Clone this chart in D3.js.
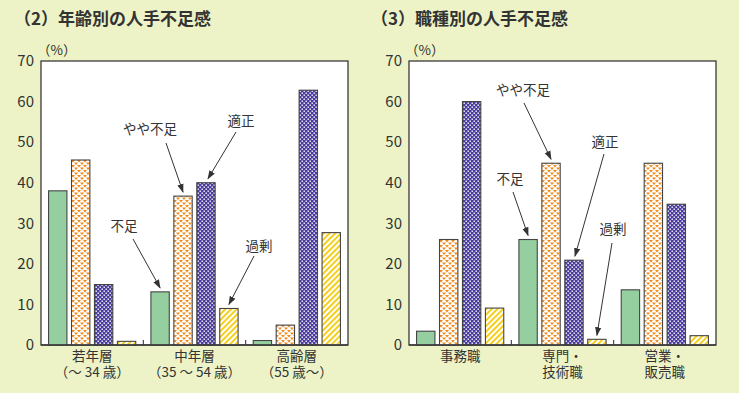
<!DOCTYPE html>
<html>
<head>
<meta charset="utf-8">
<script src="https://cdn.jsdelivr.net/npm/d3@7"></script>
<style>
  body { margin: 0; background: #edf3c7; }
  svg { display: block; }
  text { font-family: "Noto Sans CJK JP", sans-serif; fill: #333; }
</style>
</head>
<body>
<svg id="chart" width="739" height="393"></svg>
<script>
// series (same order in both panels)
var seriesNames = ["不足", "やや不足", "適正", "過剰"];
var yTicks = [0, 10, 20, 30, 40, 50, 60, 70];

// (2) by age
var ageCats = [["若年層", "（～ 34 歳）"], ["中年層", "（35 ～ 54 歳）"], ["高齢層", "（55 歳～）"]];
var ageFusoku = [38.0, 13.1, 1.1];
var ageYaya = [45.6, 36.7, 4.9];
var ageTekisei = [14.9, 40.0, 62.8];
var ageKajo = [0.9, 9.0, 27.7];

// (3) by job type
var jobCats = [["事務職"], ["専門・", "技術職"], ["営業・", "販売職"]];
var jobFusoku = [3.4, 26.0, 13.6];
var jobYaya = [26.0, 44.8, 44.8];
var jobTekisei = [60.0, 20.9, 34.7];
var jobKajo = [9.1, 1.4, 2.3];

var svg = d3.select("#chart");
var defs = svg.append("defs");

// patterns
var pOrange = defs.append("pattern").attr("id", "pOrange")
  .attr("patternUnits", "userSpaceOnUse").attr("width", 6).attr("height", 5);
pOrange.append("rect").attr("width", 6).attr("height", 5).attr("fill", "#fff");
pOrange.append("path").attr("d", "M0,0h4l-2,2.6z").attr("fill", "#f28a1a");
pOrange.append("rect").attr("x", 1.2).attr("y", 0).attr("width", 1.6).attr("height", 1.4).attr("fill", "#f28a1a");
pOrange.append("path").attr("d", "M3,2.5h4l-2,2.6z").attr("fill", "#f28a1a");
pOrange.append("path").attr("d", "M-3,2.5h4l-2,2.6z").attr("fill", "#f28a1a");

var pBlue = defs.append("pattern").attr("id", "pBlue")
  .attr("patternUnits", "userSpaceOnUse").attr("width", 4).attr("height", 4);
pBlue.append("rect").attr("width", 4).attr("height", 4).attr("fill", "#4a3c9c");
pBlue.append("rect").attr("x", 0.5).attr("y", 0.5).attr("width", 1.4).attr("height", 1.4).attr("fill", "#fff");
pBlue.append("rect").attr("x", 2.5).attr("y", 2.5).attr("width", 1.4).attr("height", 1.4).attr("fill", "#fff");

var pYellow = defs.append("pattern").attr("id", "pYellow")
  .attr("patternUnits", "userSpaceOnUse").attr("width", 4).attr("height", 4)
  .attr("patternTransform", "rotate(45)");
pYellow.append("rect").attr("width", 4).attr("height", 4).attr("fill", "#fff");
pYellow.append("rect").attr("width", 2).attr("height", 4).attr("fill", "#f6cf1c");

var fills = ["#95cf9f", "url(#pOrange)", "url(#pBlue)", "url(#pYellow)"];

var marker = defs.append("marker").attr("id", "arrow")
  .attr("viewBox", "0 0 10 10").attr("refX", 9).attr("refY", 5)
  .attr("markerWidth", 9).attr("markerHeight", 9).attr("orient", "auto")
  .attr("markerUnits", "userSpaceOnUse");
marker.append("path").attr("d", "M0,1.5L10,5L0,8.5z").attr("fill", "#333");

function panel(opts) {
  var plotTop = 61, plotBottom = 345, plotW = 307;
  var g = svg.append("g").attr("transform", "translate(" + opts.left + ",0)");

  svg.append("text").attr("x", opts.titleX).attr("y", 25)
    .attr("font-size", 17).attr("font-weight", "bold").attr("fill", "#222")
    .text(opts.title);

  var x = d3.scaleBand().domain(d3.range(opts.cats.length)).range([0, plotW]);
  var xi = d3.scaleBand().domain(d3.range(seriesNames.length))
    .range([0, x.bandwidth()]).paddingInner(0.2).paddingOuter(0.33);
  var y = d3.scaleLinear().domain([0, 70]).range([plotBottom, plotTop]);

  g.append("rect").attr("x", 0).attr("y", plotTop).attr("width", plotW)
    .attr("height", plotBottom - plotTop).attr("fill", "#fff")
    .attr("stroke", "#3a3a3a").attr("stroke-width", 1.3);

  // y axis
  var ya = g.append("g").call(d3.axisLeft(y).tickValues(yTicks).tickSize(0).tickPadding(7));
  ya.select(".domain").remove();
  ya.selectAll("text").attr("font-size", 15).attr("fill", "#333")
    .attr("font-family", "Liberation Sans, Arial, sans-serif");

  g.append("text").attr("x", -4).attr("y", 51).attr("font-size", 13.5)
    .attr("dominant-baseline", "middle").text("（%）");

  // bars
  var values = opts.values;
  seriesNames.forEach(function(s, si) {
    g.append("g").selectAll("rect").data(values[si]).enter().append("rect")
      .attr("x", function(d, i) { return x(i) + xi(si); })
      .attr("y", function(d) { return y(d); })
      .attr("width", xi.bandwidth())
      .attr("height", function(d) { return y(0) - y(d); })
      .attr("fill", fills[si])
      .attr("stroke", "#444").attr("stroke-width", 1.1);
  });

  // bottom axis line and group separators
  g.append("line").attr("x1", 0).attr("x2", plotW).attr("y1", plotBottom).attr("y2", plotBottom)
    .attr("stroke", "#3a3a3a").attr("stroke-width", 1.5);
  g.selectAll(".sep").data(d3.range(1, opts.cats.length)).enter().append("line")
    .attr("x1", function(d) { return x(d); }).attr("x2", function(d) { return x(d); })
    .attr("y1", plotBottom).attr("y2", plotBottom - 5)
    .attr("stroke", "#3a3a3a").attr("stroke-width", 1.1);

  // category labels (one text, one tspan per line)
  opts.cats.forEach(function(lines, i) {
    var cx = x(i) + x.bandwidth() / 2;
    var t = g.append("text").attr("x", cx).attr("y", 361)
      .attr("text-anchor", "middle").attr("font-size", 13.5);
    lines.forEach(function(s, li) {
      t.append("tspan").attr("x", cx).attr("dy", li ? 16 : 0).text(s);
    });
  });

  // annotations
  opts.notes.forEach(function(n) {
    var bx = x(n.group) + xi(n.series) + xi.bandwidth() / 2 + n.dx;
    var by = y(values[n.series][n.group]) - 4;
    g.append("text").attr("x", n.tx).attr("y", n.ty).attr("text-anchor", "middle")
      .attr("dominant-baseline", "middle").attr("font-size", 13.5).text(seriesNames[n.series]);
    g.append("line").attr("x1", n.lx).attr("y1", n.ly).attr("x2", bx).attr("y2", by)
      .attr("stroke", "#333").attr("stroke-width", 1).attr("marker-end", "url(#arrow)");
  });
}

panel({
  left: 41, titleX: 14, title: "（2）年齢別の人手不足感",
  cats: ageCats,
  values: [ageFusoku, ageYaya, ageTekisei, ageKajo],
  notes: [
    { series: 1, group: 1, dx: 0, tx: 109, ty: 130, lx: 125, ly: 143 },
    { series: 2, group: 1, dx: 2, tx: 200, ty: 122, lx: 195, ly: 132 },
    { series: 0, group: 1, dx: 0, tx: 83, ty: 227, lx: 92, ly: 239 },
    { series: 3, group: 1, dx: 0, tx: 218, ty: 247, lx: 213, ly: 256 }
  ]
});

panel({
  left: 409, titleX: 371, title: "（3）職種別の人手不足感",
  cats: jobCats,
  values: [jobFusoku, jobYaya, jobTekisei, jobKajo],
  notes: [
    { series: 1, group: 1, dx: 0, tx: 114, ty: 91, lx: 115, ly: 103 },
    { series: 2, group: 1, dx: 1, tx: 196, ty: 143, lx: 195, ly: 154 },
    { series: 0, group: 1, dx: 0, tx: 101, ty: 180, lx: 104, ly: 192 },
    { series: 3, group: 1, dx: 0, tx: 204, ty: 230, lx: 203, ly: 243 }
  ]
});
</script>
</body>
</html>
